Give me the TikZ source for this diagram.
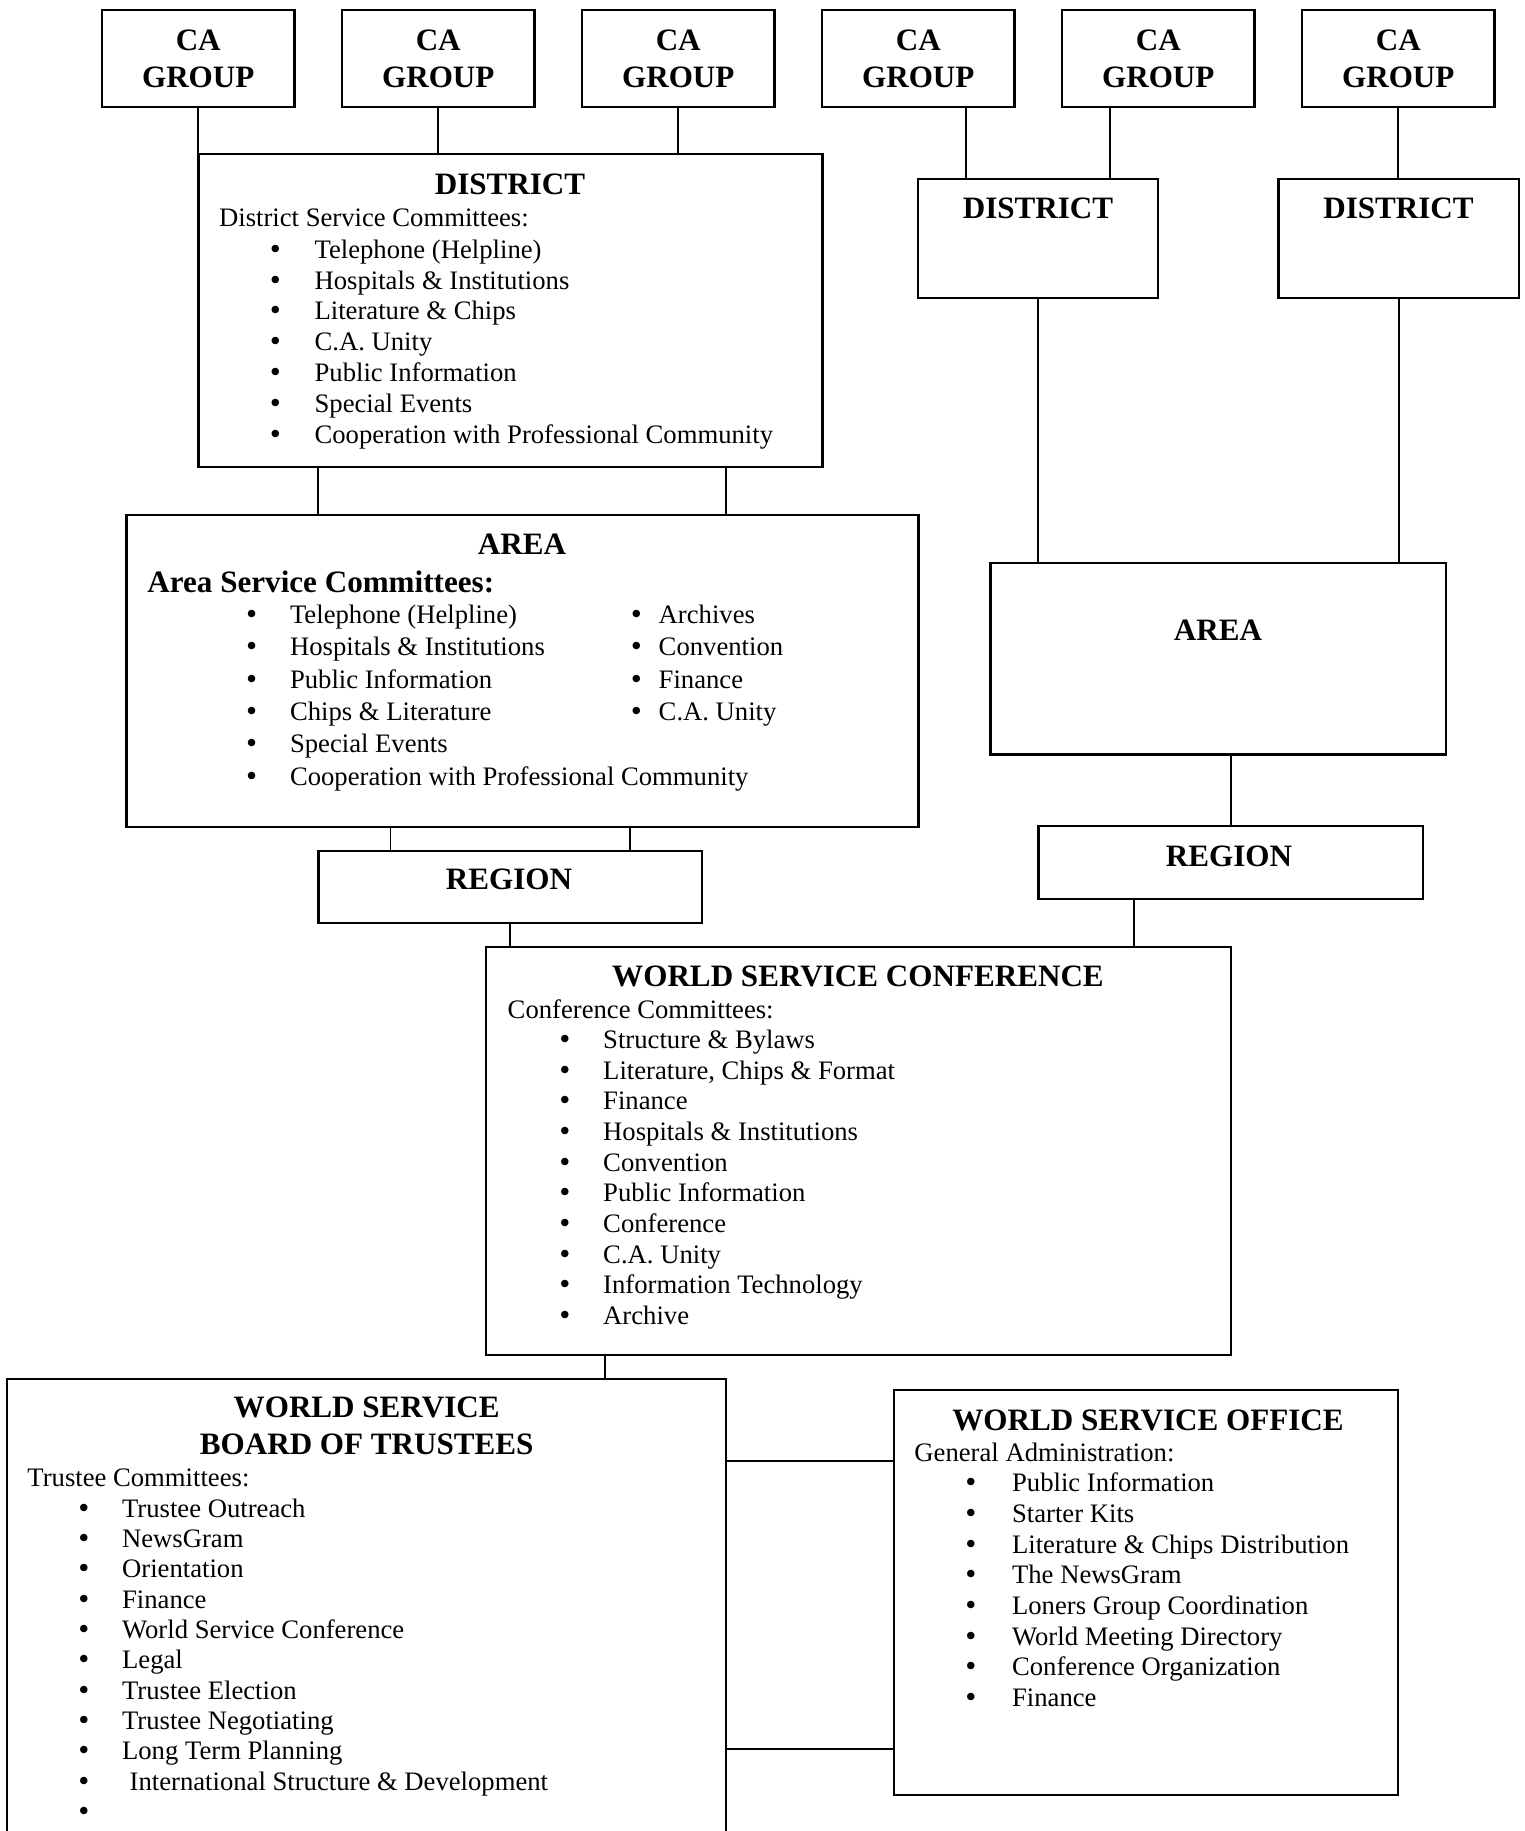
\documentclass[tikz,border=0pt]{standalone}
\usepackage{fontspec}
\setmainfont{Liberation Serif}
\newfontfamily\dotfont{DejaVu Sans}

\tikzset{
	orgrect/.style={draw, line width=1pt, inner sep=0pt, outer sep=0pt},
	link/.style={line width=0.8pt},
	headtext/.style={font=\fontsize{14}{16.6}\selectfont\bfseries, align=center, inner sep=0pt},
	subhead/.style={font=\fontsize{12}{13.8}\selectfont, inner sep=0pt, anchor=base west},
	bodytext/.style={font=\fontsize{12}{13.8}\selectfont, inner sep=0pt, anchor=base west},
}

\newcommand{\orgbox}[5]{
	\pgfmathsetmacro{\OBw}{(#4-#2)*0.45}
	\pgfmathsetmacro{\OBh}{(#5-#3)*0.45}
	\node[orgrect, minimum width=\OBw pt, minimum height=\OBh pt] (#1) at ({(#2+#4)/2}, {(#3+#5)/2}) {};
}

\newcommand{\bigdot}{{\dotfont\fontsize{11.5}{13.8}\selectfont •}}

\newcommand{\bullist}[6]{
	\foreach \lbl [count=\k] in {#6} {
		\node[bodytext] (#1\k) at (#2, {#3+#4*(\k-1)}) {\makebox[#5pt][l]{\bigdot}\lbl};
	}
}

\begin{document}
\begin{tikzpicture}[x=0.45pt, y=-0.45pt]
\useasboundingbox (0,0) rectangle (1525,1831);

\orgbox{caA}{102}{10}{294.5}{107}
\orgbox{caB}{342}{10}{534.5}{107}
\orgbox{caC}{582}{10}{774.5}{107}
\orgbox{caD}{822}{10}{1014.5}{107}
\orgbox{caE}{1062}{10}{1254.5}{107}
\orgbox{caF}{1302}{10}{1494.5}{107}
\foreach \g in {caA,caB,caC,caD,caE,caF}
	\node[headtext] (\g txt) at (\g) {CA\\GROUP};

\orgbox{distA}{198.6}{154}{822.6}{467}
\orgbox{distB}{918}{179}{1158.3}{298}
\orgbox{distC}{1278.5}{179}{1519}{298}
\orgbox{areaA}{126.6}{515}{918.4}{826.7}
\orgbox{areaB}{990.5}{563}{1446.3}{754.5}
\orgbox{regA}{318.4}{850.7}{702.2}{922.7}
\orgbox{regB}{1038.6}{826}{1422.7}{898.8}
\orgbox{wsc}{486}{946.7}{1231}{1355}
\orgbox{board}{7}{1379}{726}{1845}
\orgbox{office}{894}{1390}{1398}{1795}

\node[headtext] (distAtitle) at (510,184) {DISTRICT};
\node[subhead] (distAsub) at (218.7,226.7) {District Service Committees:};
\bullist{distAl}{267.5}{258.3}{30.8}{21}{Telephone (Helpline), Hospitals \& Institutions, Literature \& Chips, C.A. Unity, Public Information, Special Events, Cooperation with Professional Community}

\node[headtext] (distBtitle) at (1038,208) {DISTRICT};
\node[headtext] (distCtitle) at (1398.5,208) {DISTRICT};

\node[headtext] (areaAtitle) at (522,544) {AREA};
\node[headtext, anchor=base west] (areaAsub) at (147,592) {Area Service Committees:};
\bullist{areaAl}{243.6}{623.3}{32.4}{20.7}{Telephone (Helpline), Hospitals \& Institutions, Public Information, Chips \& Literature, Special Events, Cooperation with Professional Community}
\bullist{areaAr}{628.5}{623.3}{32.4}{13.4}{Archives, Convention, Finance, C.A. Unity}

\node[headtext] (areaBtitle) at (1218,630) {AREA};
\node[headtext] (regAtitle) at (509,879) {REGION};
\node[headtext] (regBtitle) at (1229,856) {REGION};

\node[headtext] (wsctitle) at (858,976) {WORLD SERVICE CONFERENCE};
\node[subhead] (wscsub) at (507.3,1018.3) {Conference Committees:};
\bullist{wscl}{557}{1048.3}{30.7}{20.6}{Structure \& Bylaws, {Literature, Chips \& Format}, Finance, Hospitals \& Institutions, Convention, Public Information, Conference, C.A. Unity, Information Technology, Archive}

\node[headtext] (boardtitle) at (366.7,1425.5) {WORLD SERVICE\\BOARD OF TRUSTEES};
\node[subhead] (boardsub) at (27,1486.7) {Trustee Committees:};
\bullist{boardl}{75.9}{1517.3}{30.3}{20.6}{Trustee Outreach, NewsGram, Orientation, Finance, World Service Conference, Legal, Trustee Election, Trustee Negotiating, Long Term Planning, \hspace{3.4pt}International Structure \& Development, {}}

\node[headtext] (officetitle) at (1148,1420) {WORLD SERVICE OFFICE};
\node[subhead] (officesub) at (914,1461.7) {General Administration:};
\bullist{officel}{963}{1491.7}{30.7}{21.9}{Public Information, Starter Kits, Literature \& Chips Distribution, The NewsGram, Loners Group Coordination, World Meeting Directory, Conference Organization, Finance}

\draw[link] (caA.south) -- (caA.south |- distA.north);
\draw[link] (caB.south) -- (caB.south |- distA.north);
\draw[link] (caC.south) -- (caC.south |- distA.north);
\draw[link] (caD.south -| 966,0) -- (distB.north -| 966,0);
\draw[link] (caE.south -| 1110,0) -- (distB.north -| 1110,0);
\draw[link] (caF.south) -- (caF.south |- distC.north);

\draw[link] (distA.south -| 318,0) -- (areaA.north -| 318,0);
\draw[link] (distA.south -| 726,0) -- (areaA.north -| 726,0);
\draw[link] (distB.south) -- (distB.south |- areaB.north);
\draw[link] (distC.south) -- (distC.south |- areaB.north);

\draw[link] (areaA.south -| 390.5,0) -- (regA.north -| 390.5,0);
\draw[link] (areaA.south -| 630,0) -- (regA.north -| 630,0);
\draw[link] (regB.north |- areaB.south) -- (regB.north);

\draw[link] (regA.south) -- (regA.south |- wsc.north);
\draw[link] (regB.south -| 1133.8,0) -- (wsc.north -| 1133.8,0);

\draw[link] (wsc.south -| 605.3,0) -- (board.north -| 605.3,0);
\draw[link] (board.east |- 0,1461) -- (office.west |- 0,1461);
\draw[link] (board.east |- 0,1749) -- (office.west |- 0,1749);
\end{tikzpicture}
\end{document}
